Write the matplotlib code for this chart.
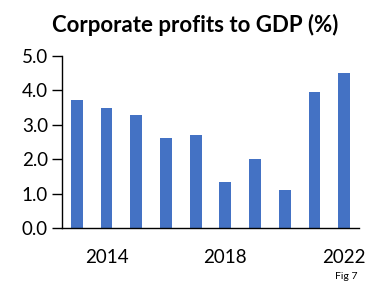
import numpy as np
import matplotlib.pyplot as plt

plt.rcParams['font.family'] = ['Lato', 'DejaVu Sans']

years = [2013, 2014, 2015, 2016, 2017, 2018, 2019, 2020, 2021, 2022]
profits = [3.73, 3.49, 3.28, 2.62, 2.69, 1.35, 2.0, 1.10, 3.94, 4.51]
xticks = [2014, 2018, 2022]
yticks = [0.0, 1.0, 2.0, 3.0, 4.0, 5.0]

fig = plt.figure(figsize=(3.7, 2.82), dpi=100)
ax = fig.add_axes([62/370, 54/282, 297/370, 172/282])

ax.bar(years, profits, width=0.4, color='#4472C4')

ax.set_xlim(2012.5, 2022.5)
ax.set_ylim(0, 5)
ax.set_yticks(yticks)
ax.set_yticklabels([f'{v:.1f}' for v in yticks], fontsize=13.5)
ax.set_xticks(xticks)
ax.set_xticklabels([str(y) for y in xticks], fontsize=13.5)
ax.tick_params(axis='x', length=0, pad=15)
ax.tick_params(axis='y', length=7, width=1, pad=3)

for s in ['top', 'right']:
    ax.spines[s].set_visible(False)
ax.spines['left'].set_linewidth(1)
ax.spines['bottom'].set_linewidth(1)

fig.text(0.527, 0.91, 'Corporate profits to GDP (%)', ha='center', va='center',
         fontsize=16, fontweight='bold')
fig.text(0.935, 0.005, 'Fig 7', ha='center', va='bottom', fontsize=7.5)

fig.savefig('out.png', dpi=100)
